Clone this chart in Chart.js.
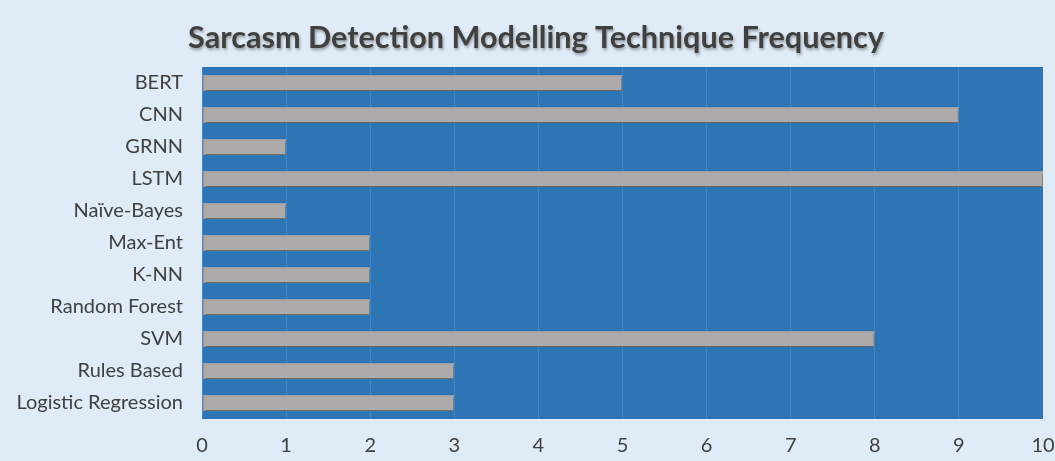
<!DOCTYPE html>
<html>
<head>
<meta charset="utf-8">
<script src="https://cdn.jsdelivr.net/npm/chart.js@4"></script>
<style>
  html, body { margin: 0; padding: 0; background: #dfebf7; }
  #wrap { width: 1055px; height: 461px; position: relative; }
</style>
</head>
<body>
<div id="wrap"><canvas id="chart"></canvas></div>
<script>
// --- data ---
const techniques = ["BERT", "CNN", "GRNN", "LSTM", "Naïve-Bayes", "Max-Ent", "K-NN",
  "Random Forest", "SVM", "Rules Based", "Logistic Regression"];
const frequency = [5, 9, 1, 10, 1, 2, 2, 2, 8, 3, 3];
const xTicks = [0, 1, 2, 3, 4, 5, 6, 7, 8, 9, 10];

const FONT = "Lato, 'Open Sans', sans-serif";

// fill the plot area dark blue
const plotBg = {
  id: "plotBg",
  beforeDraw(chart) {
    const { ctx, chartArea: a } = chart;
    ctx.save();
    ctx.fillStyle = "#2e75b6";
    ctx.fillRect(a.left, a.top, a.right - a.left, a.bottom - a.top);
    ctx.restore();
  }
};

// soft shadow under bars
const barShadow = {
  id: "barShadow",
  beforeDatasetsDraw(chart) {
    const ctx = chart.ctx;
    ctx.save();
    ctx.shadowColor = "rgba(0,0,0,0.45)";
    ctx.shadowBlur = 3;
    ctx.shadowOffsetX = 1;
    ctx.shadowOffsetY = 2;
  },
  afterDatasetsDraw(chart) {
    chart.ctx.restore();
  }
};

const titleShadow = {
  id: "titleShadow",
  beforeDraw(chart) {
    const ctx = chart.ctx;
    ctx.save();
    ctx.font = "bold 30.6px " + FONT;
    ctx.textAlign = "center";
    ctx.textBaseline = "middle";
    ctx.shadowColor = "rgba(0,0,0,0.35)";
    ctx.shadowBlur = 3;
    ctx.shadowOffsetX = 1;
    ctx.shadowOffsetY = 2;
    ctx.fillStyle = "#404040";
    ctx.fillText("Sarcasm Detection Modelling Technique Frequency", 536, 38);
    ctx.restore();
  }
};

new Chart(document.getElementById("chart"), {
  type: "bar",
  data: {
    labels: techniques,
    datasets: [{
      data: frequency,
      backgroundColor: "#aeaaaa",
      borderColor: "#a6a2a2",
      borderWidth: 1,
      borderSkipped: false,
      barPercentage: 0.5,
      categoryPercentage: 1
    }]
  },
  options: {
    indexAxis: "y",
    responsive: true,
    maintainAspectRatio: false,
    animation: false,
    layout: { padding: { top: 67, right: 12, left: 15, bottom: 2 } },
    plugins: { legend: { display: false }, title: { display: false }, tooltip: { enabled: false } },
    scales: {
      x: {
        min: 0,
        max: 10,
        afterBuildTicks: axis => { axis.ticks = xTicks.map(v => ({ value: v })); },
        afterFit: axis => { axis.height = 40; axis.paddingRight = 0; axis.paddingLeft = 0; },
        grid: { color: "rgba(255,255,255,0.12)", drawTicks: false },
        border: { display: false },
        ticks: { color: "#404040", font: { family: FONT, size: 20 }, padding: 15 }
      },
      y: {
        afterFit: axis => { axis.width = 187; },
        grid: { display: false, drawTicks: false },
        border: { display: false },
        ticks: { color: "#404040", font: { family: FONT, size: 20 }, padding: 19 }
      }
    }
  },
  plugins: [plotBg, barShadow, titleShadow]
});
</script>
</body>
</html>
